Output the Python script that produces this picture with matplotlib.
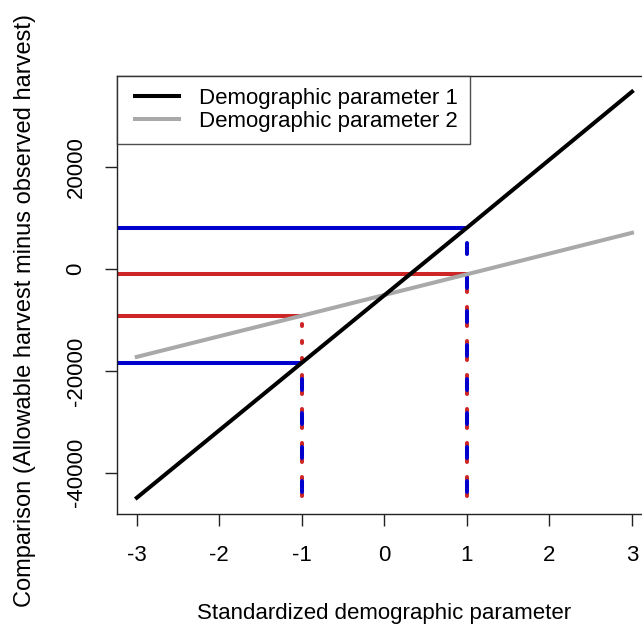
import matplotlib
matplotlib.use("Agg")
import matplotlib.pyplot as plt
from matplotlib.lines import Line2D
from matplotlib.legend_handler import HandlerLine2D

plt.rcParams['font.family'] = ['Liberation Sans', 'DejaVu Sans']
plt.rcParams['lines.scale_dashes'] = False

# ---- data ----
x_std = [-3, -2, -1, 0, 1, 2, 3]
param1 = [-44900, -31650, -18400, -5150, 8100, 21450, 34800]
param2 = [-17250, -13200, -9170, -5100, -1040, 3030, 7100]
series_labels = ["Demographic parameter 1", "Demographic parameter 2"]

# reference points (x position, value of param1 / param2)
ref_x = [-1, 1]
ref_p1 = [-18400, 8100]
ref_p2 = [-9170, -1040]
vline_bottom = -45000

x_ticks = [-3, -2, -1, 0, 1, 2, 3]
y_ticks = [-40000, -20000, 0, 20000]

xlabel = "Standardized demographic parameter"
ylabel = "Comparison (Allowable harvest minus observed harvest)"

BLUE = "#0000CD"
RED = "#CD2626"
GRAY = "#A9A9A9"

fig = plt.figure(figsize=(6.42, 6.27), dpi=100)
ax = fig.add_axes([117 / 642, 1 - 514 / 627, (651.8 - 117) / 642, (514 - 76) / 627])

xmin, xmax = -3.24, 3.24
ax.set_xlim(xmin, xmax)
ax.set_ylim(-48090, 37880)

LW = 2.9
# horizontal reference lines
for xr, v in zip(ref_x, ref_p1):
    ax.plot([xmin, xr], [v, v], color=BLUE, lw=LW, solid_capstyle='butt', zorder=2)
for xr, v in zip(ref_x, ref_p2):
    ax.plot([xmin, xr], [v, v], color=RED, lw=LW, solid_capstyle='butt', zorder=2)

# vertical reference lines: red dotted underneath, blue dashed on top
for xr, v in zip(ref_x, ref_p2):
    ax.plot([xr, xr], [vline_bottom, v], color=RED, lw=LW,
            linestyle=(10.8, (1.44, 10.8)), dash_capstyle='round', zorder=3)
for xr, v in zip(ref_x, ref_p1):
    ax.plot([xr, xr], [vline_bottom, v], color=BLUE, lw=LW,
            linestyle=(20.16, (7.92, 16.56)), dash_capstyle='round', zorder=4)

ax.plot(x_std, param2, color=GRAY, lw=LW, zorder=5)
ax.plot(x_std, param1, color='black', lw=LW, zorder=6)

ax.set_xticks(x_ticks)
ax.set_xticklabels([str(t) for t in x_ticks])
ax.set_yticks(y_ticks)
ax.set_yticklabels([str(t) for t in y_ticks], rotation=90, va='center')
ax.tick_params(axis='both', length=8.6, width=1.0, labelsize=16, color='#222222')
ax.tick_params(axis='x', pad=14)
ax.tick_params(axis='y', pad=13.3)
for s in ax.spines.values():
    s.set_linewidth(1.0)
    s.set_color('#222222')

ax.set_xlabel(xlabel, fontsize=16, labelpad=26)
ax.set_ylabel(ylabel, fontsize=17, labelpad=21)
ax.yaxis.label.set_y(0.4635)

handles = [Line2D([], [], color='black', lw=LW), Line2D([], [], color=GRAY, lw=LW)]
leg = ax.legend(handles, series_labels, loc='upper left', fontsize=16,
                frameon=True, fancybox=False, borderaxespad=0.0,
                handlelength=2.26, handletextpad=0.86, borderpad=0.55,
                labelspacing=0.06,
                handler_map={Line2D: HandlerLine2D(xpad=0.28)})
leg.get_frame().set_edgecolor('#222222')
leg.get_frame().set_linewidth(1.0)
leg.set_zorder(10)

fig.savefig("out.png", dpi=100)
